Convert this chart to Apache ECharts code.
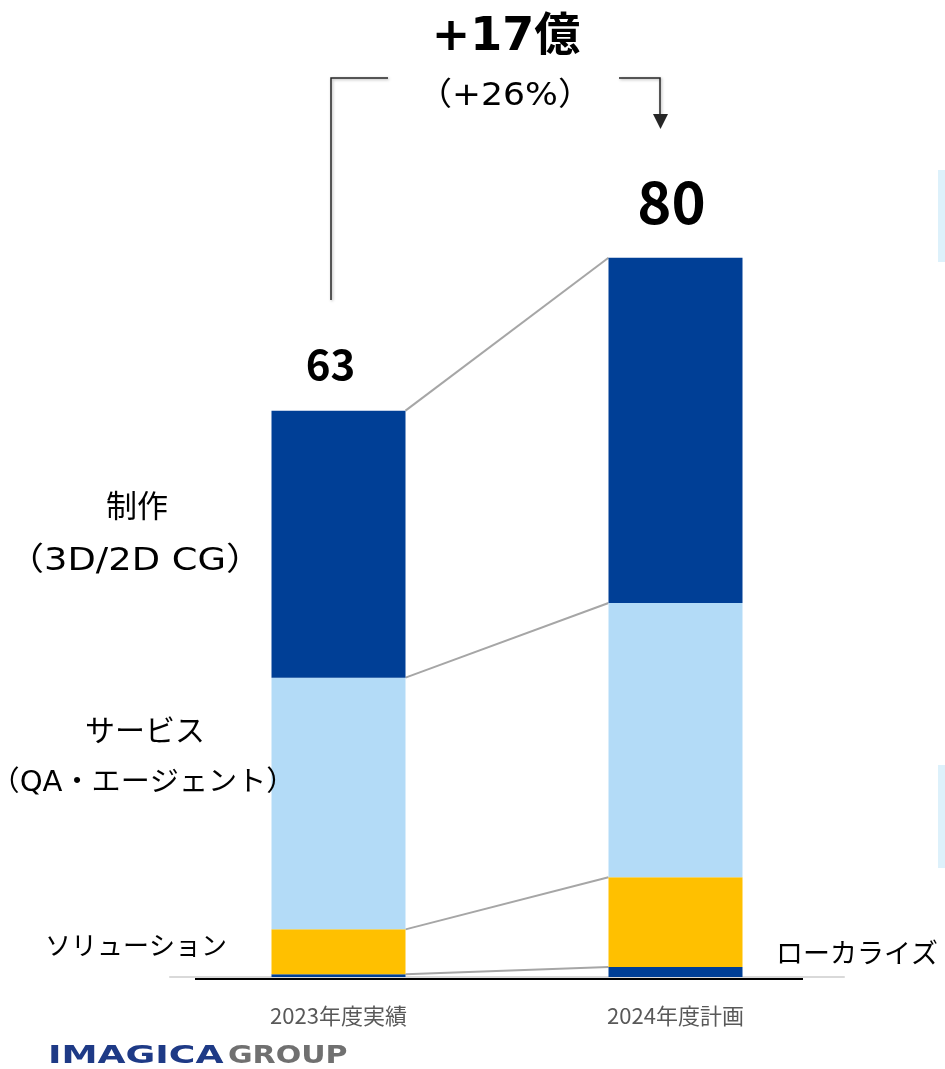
<!DOCTYPE html>
<html>
<head>
<meta charset="utf-8">
<script src="https://cdn.jsdelivr.net/npm/echarts@6/dist/echarts.min.js"></script>
<style>
  html, body { margin: 0; padding: 0; background: #ffffff; }
  #chart { width: 945px; height: 1069px; }
</style>
</head>
<body>
<div id="chart"></div>
<script>
// 売上構成（億円）
const categories = ['2023年度実績', '2024年度計画'];
const localize   = [0.3, 1.1];   // ローカライズ
const solution   = [5.0, 10.0];  // ソリューション
const service    = [28.0, 30.5]; // サービス（QA・エージェント）
const production = [29.7, 38.4]; // 制作（3D/2D CG）
const totals     = [63, 80];
const growthLabel = '+17億';
const growthRate  = '（+26%）';

const FONT = '"Noto Sans CJK JP", "Noto Sans", sans-serif';
const WIDE = '"DejaVu Sans", "Noto Sans CJK JP", sans-serif';
const BAR_W = 134;

// 各区分の境界（累積値）を棒と棒の間の連結線に使う
const stackOrder = [localize, solution, service, production];
const boundaries = [];
{
  const cum = [0, 0];
  stackOrder.forEach(arr => {
    cum[0] += arr[0];
    cum[1] += arr[1];
    boundaries.push([0, +cum[0].toFixed(2), +cum[1].toFixed(2)]);
  });
}

const chart = echarts.init(document.getElementById('chart'), null, { renderer: 'canvas' });

const totalLabelStyles = [
  { fontSize: 42, distance: 26, offset: [-8, 0] },
  { fontSize: 58, distance: 27, offset: [-4, 0] }
];

const textStyle = (text, x, y, size, extra) => Object.assign({
  text, x, y, align: 'center', verticalAlign: 'middle', fontSize: size, fontFamily: FONT, fill: '#000'
}, extra || {});

// 横に少し広げた文字（中心位置で拡大）
const wideText = (text, x, y, size, sx) => ({
  type: 'text', x, y, scaleX: sx, z: 100,
  style: textStyle(text, 0, 0, size, { fontFamily: WIDE })
});

const plainText = (text, x, y, size, extra) => ({
  type: 'text', z: 100, style: textStyle(text, x, y, size, extra)
});

const bracketStyle = {
  stroke: '#262626', lineWidth: 1.5, fill: null,
  shadowBlur: 3, shadowColor: 'rgba(0,0,0,0.35)', shadowOffsetX: 1, shadowOffsetY: 1
};

const option = {
  animation: false,
  backgroundColor: '#ffffff',
  grid: { left: 170, right: 101, top: 78, bottom: 92, containLabel: false },
  xAxis: {
    type: 'category',
    data: categories,
    axisLine: { show: true, lineStyle: { color: '#d9d9d9', width: 2 } },
    axisTick: { show: false },
    axisLabel: { color: '#595959', fontSize: 22, fontFamily: FONT, margin: 28 }
  },
  yAxis: {
    type: 'value',
    min: 0,
    max: 100,
    show: false,
    splitLine: { show: false }
  },
  series: [
    {
      name: 'ローカライズ', type: 'bar', stack: 'total', barWidth: BAR_W,
      itemStyle: { color: '#003f96' }, data: localize
    },
    {
      name: 'ソリューション', type: 'bar', stack: 'total', barWidth: BAR_W,
      itemStyle: { color: '#ffc000' }, data: solution
    },
    {
      name: 'サービス', type: 'bar', stack: 'total', barWidth: BAR_W,
      itemStyle: { color: '#b3dbf7' }, data: service
    },
    {
      name: '制作', type: 'bar', stack: 'total', barWidth: BAR_W,
      itemStyle: { color: '#003f96' },
      data: production.map((v, i) => ({
        value: v,
        label: {
          show: true,
          position: 'top',
          distance: totalLabelStyles[i].distance,
          offset: totalLabelStyles[i].offset,
          formatter: String(totals[i]),
          fontSize: totalLabelStyles[i].fontSize,
          fontWeight: 'bold',
          fontFamily: FONT,
          color: '#000000'
        }
      }))
    },
    {
      // 棒どうしを結ぶ区分境界の連結線
      type: 'custom',
      data: boundaries,
      encode: { x: 0, y: 1 },
      silent: true,
      z: 1,
      renderItem: function (params, api) {
        const p1 = api.coord([0, api.value(1)]);
        const p2 = api.coord([1, api.value(2)]);
        return {
          type: 'line',
          shape: { x1: p1[0] + BAR_W / 2, y1: p1[1], x2: p2[0] - BAR_W / 2, y2: p2[1] },
          style: { stroke: '#a6a6a6', lineWidth: 2 }
        };
      }
    }
  ],
  graphic: [
    // 増減の注記
    plainText(growthLabel, 506, 38, 46, { fontWeight: 'bold', fontFamily: WIDE }),
    wideText(growthRate, 505, 97, 32, 1.08),
    { type: 'polyline', shape: { points: [[331, 300], [331, 78], [388, 78]] }, style: bracketStyle },
    { type: 'polyline', shape: { points: [[619, 78], [660, 78], [660, 117]] }, style: bracketStyle },
    { type: 'polygon', shape: { points: [[653, 114], [668, 114], [660.5, 129]] }, style: { fill: '#262626' } },
    // 区分名
    plainText('制作', 137, 505, 31),
    wideText('（3D/2D CG）', 135, 562, 32, 1.15),
    plainText('サービス', 145, 730, 30),
    wideText('（QA・エージェント）', 143, 784, 28, 1.04),
    plainText('ソリューション', 136, 945, 26),
    plainText('ローカライズ', 857, 953, 27),
    // 基準線
    { type: 'line', z: 100, shape: { x1: 195, y1: 979, x2: 803, y2: 979 }, style: { stroke: '#000', lineWidth: 2 } },
    // 右端の帯
    { type: 'rect', shape: { x: 938, y: 170, width: 7, height: 92 }, style: { fill: '#ddf1fb' } },
    { type: 'rect', shape: { x: 938, y: 765, width: 7, height: 103 }, style: { fill: '#ddf1fb' } },
    // ロゴ
    { type: 'text', x: 48, y: 1057, scaleX: 1.51, style: { text: 'IMAGICA', verticalAlign: 'middle', fontSize: 24, fontWeight: 'bold', fontFamily: '"DejaVu Sans", sans-serif', fill: '#1e3a86' } },
    { type: 'text', x: 228, y: 1057, scaleX: 1.25, style: { text: 'GROUP', verticalAlign: 'middle', fontSize: 24, fontWeight: 'bold', fontFamily: '"DejaVu Sans", sans-serif', fill: '#707070' } }
  ]
};

chart.setOption(option);
</script>
</body>
</html>
